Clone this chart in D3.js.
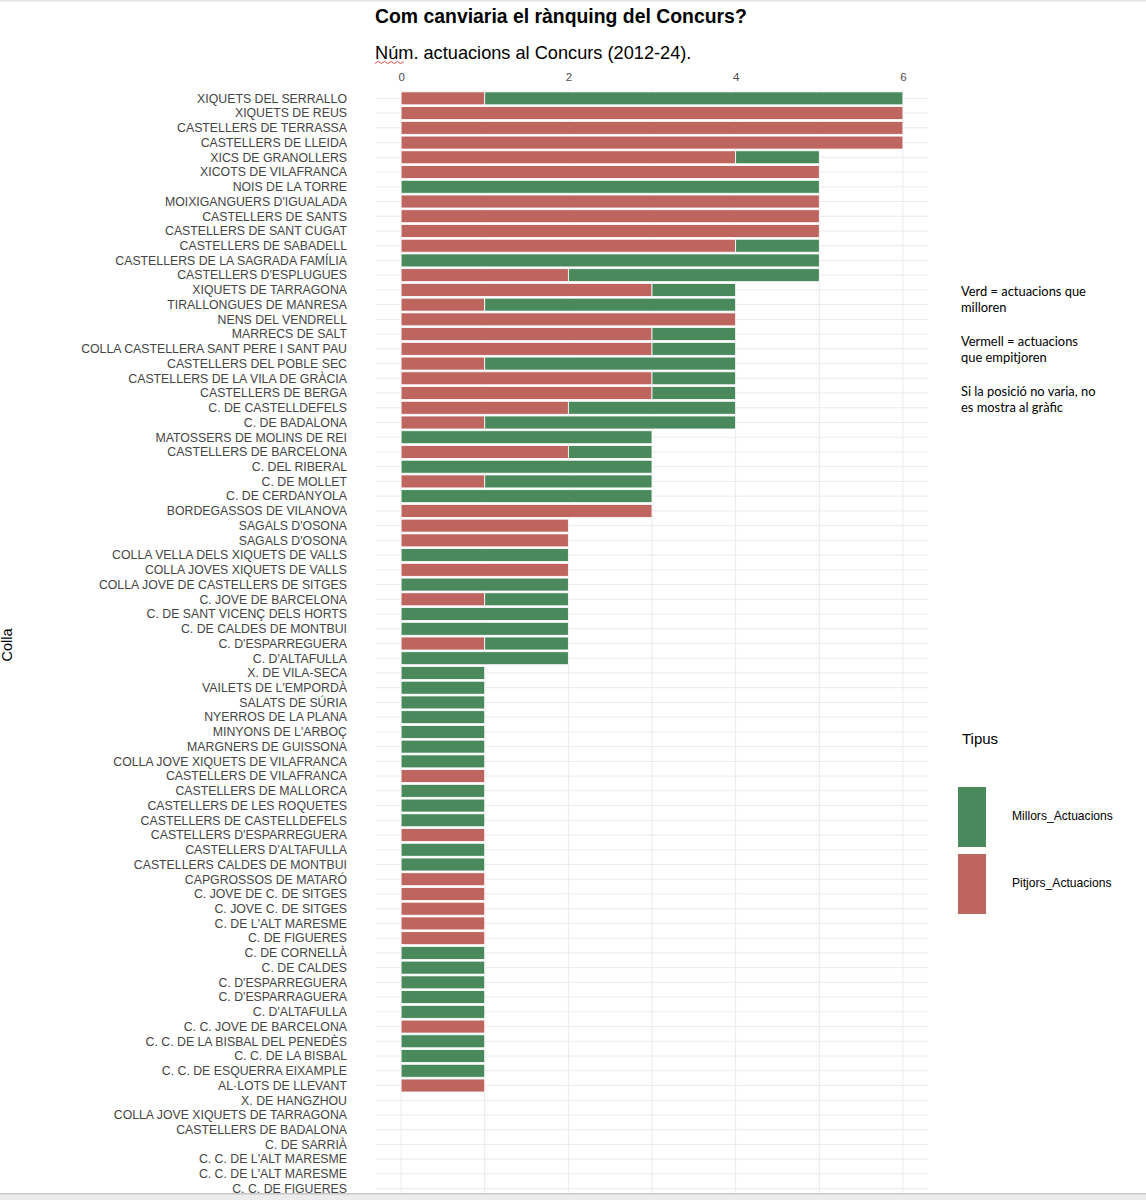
<!DOCTYPE html>
<html>
<head>
<meta charset="utf-8">
<script src="https://cdn.jsdelivr.net/npm/d3@7"></script>
<style>
  body { margin: 0; background: #fff; }
  svg { display: block; }
</style>
</head>
<body>
<div id="chart"></div>
<script>
// colles, from top to bottom (some names appear twice in the original)
const colles = [
  "XIQUETS DEL SERRALLO", "XIQUETS DE REUS", "CASTELLERS DE TERRASSA", "CASTELLERS DE LLEIDA",
  "XICS DE GRANOLLERS", "XICOTS DE VILAFRANCA", "NOIS DE LA TORRE", "MOIXIGANGUERS D'IGUALADA",
  "CASTELLERS DE SANTS", "CASTELLERS DE SANT CUGAT", "CASTELLERS DE SABADELL",
  "CASTELLERS DE LA SAGRADA FAMÍLIA", "CASTELLERS D'ESPLUGUES", "XIQUETS DE TARRAGONA",
  "TIRALLONGUES DE MANRESA", "NENS DEL VENDRELL", "MARRECS DE SALT",
  "COLLA CASTELLERA SANT PERE I SANT PAU", "CASTELLERS DEL POBLE SEC",
  "CASTELLERS DE LA VILA DE GRÀCIA", "CASTELLERS DE BERGA", "C. DE CASTELLDEFELS",
  "C. DE BADALONA", "MATOSSERS DE MOLINS DE REI", "CASTELLERS DE BARCELONA", "C. DEL RIBERAL",
  "C. DE MOLLET", "C. DE CERDANYOLA", "BORDEGASSOS DE VILANOVA", "SAGALS D'OSONA",
  "SAGALS D'OSONA", "COLLA VELLA DELS XIQUETS DE VALLS", "COLLA JOVES XIQUETS DE VALLS",
  "COLLA JOVE DE CASTELLERS DE SITGES", "C. JOVE DE BARCELONA", "C. DE SANT VICENÇ DELS HORTS",
  "C. DE CALDES DE MONTBUI", "C. D'ESPARREGUERA", "C. D'ALTAFULLA", "X. DE VILA-SECA",
  "VAILETS DE L'EMPORDÀ", "SALATS DE SÚRIA", "NYERROS DE LA PLANA", "MINYONS DE L'ARBOÇ",
  "MARGNERS DE GUISSONA", "COLLA JOVE XIQUETS DE VILAFRANCA", "CASTELLERS DE VILAFRANCA",
  "CASTELLERS DE MALLORCA", "CASTELLERS DE LES ROQUETES", "CASTELLERS DE CASTELLDEFELS",
  "CASTELLERS D'ESPARREGUERA", "CASTELLERS D'ALTAFULLA", "CASTELLERS CALDES DE MONTBUI",
  "CAPGROSSOS DE MATARÓ", "C. JOVE DE C. DE SITGES", "C. JOVE C. DE SITGES",
  "C. DE L'ALT MARESME", "C. DE FIGUERES", "C. DE CORNELLÀ", "C. DE CALDES",
  "C. D'ESPARREGUERA", "C. D'ESPARRAGUERA", "C. D'ALTAFULLA", "C. C. JOVE DE BARCELONA",
  "C. C. DE LA BISBAL DEL PENEDÈS", "C. C. DE LA BISBAL", "C. C. DE ESQUERRA EIXAMPLE",
  "AL·LOTS DE LLEVANT", "X. DE HANGZHOU", "COLLA JOVE XIQUETS DE TARRAGONA",
  "CASTELLERS DE BADALONA", "C. DE SARRIÀ", "C. C. DE L'ALT MARESME",
  "C. C. DE L'ALT MARESME", "C. C. DE FIGUERES"
];

// actuacions que empitjoren (vermell)
const pitjors = [
  1, 6, 6, 6, 4, 5, 0, 5, 5, 5, 4, 0, 2, 3, 1, 4, 3, 3, 1, 3, 3, 2, 1, 0, 2,
  0, 1, 0, 3, 2, 2, 0, 2, 0, 1, 0, 0, 1, 0, 0, 0, 0, 0, 0, 0, 0, 1, 0, 0, 0,
  1, 0, 0, 1, 1, 1, 1, 1, 0, 0, 0, 0, 0, 1, 0, 0, 0, 1, 0, 0, 0, 0, 0, 0, 0
];

// actuacions que milloren (verd)
const millors = [
  5, 0, 0, 0, 1, 0, 5, 0, 0, 0, 1, 5, 3, 1, 3, 0, 1, 1, 3, 1, 1, 2, 3, 3, 1,
  3, 2, 3, 0, 0, 0, 2, 0, 2, 1, 2, 2, 1, 2, 1, 1, 1, 1, 1, 1, 1, 0, 1, 1, 1,
  0, 1, 1, 0, 0, 0, 0, 0, 1, 1, 1, 1, 1, 0, 1, 1, 1, 0, 0, 0, 0, 0, 0, 0, 0
];

const tipus = ["Millors_Actuacions", "Pitjors_Actuacions"];
const colors = ["#4a895c", "#bf6560"];
const xTicks = [0, 2, 4, 6];

const notes = [
  ["Verd = actuacions que", "milloren"],
  ["Vermell = actuacions", "que empitjoren"],
  ["Si la posició no varia, no", "es mostra al gràfic"]
];

const width = 1146;
const height = 1200;
const panel = { left: 376, right: 928, top: 90, bottom: 1197 };

const svg = d3.select("#chart")
  .append("svg")
  .attr("width", width)
  .attr("height", height)
  .style("font-family", "'Liberation Sans', Arial, sans-serif");

const x = d3.scaleLinear()
  .domain([-0.3, 6.3])
  .range([panel.left, panel.right]);

const y = d3.scaleBand()
  .domain(d3.range(colles.length))
  .range([91, 1196])
  .paddingInner(0.12)
  .paddingOuter(0.06);

const color = d3.scaleOrdinal().domain(tipus).range(colors);

// stacked rows: red segment first, then green
const rows = colles.map((c, i) => ({ i, pitjors: pitjors[i], millors: millors[i] }));
const series = d3.stack().keys(["pitjors", "millors"])(rows);

// grid lines
svg.append("g")
  .selectAll("line")
  .data(d3.range(colles.length))
  .join("line")
  .attr("x1", panel.left)
  .attr("x2", panel.right)
  .attr("y1", d => y(d) + y.bandwidth() / 2)
  .attr("y2", d => y(d) + y.bandwidth() / 2)
  .attr("stroke", "#ebebeb")
  .attr("stroke-width", 1);

svg.append("g")
  .selectAll("line")
  .data(d3.range(0, 7))
  .join("line")
  .attr("x1", d => x(d))
  .attr("x2", d => x(d))
  .attr("y1", panel.top)
  .attr("y2", panel.bottom)
  .attr("stroke", "#ebebeb")
  .attr("stroke-width", 1);

// bars
svg.append("g")
  .selectAll("g")
  .data(series)
  .join("g")
  .attr("fill", d => d.key === "pitjors" ? color(tipus[1]) : color(tipus[0]))
  .selectAll("rect")
  .data(d => d.filter(s => s[1] > s[0]))
  .join("rect")
  .attr("x", d => x(d[0]))
  .attr("y", d => y(d.data.i))
  .attr("width", d => x(d[1]) - x(d[0]))
  .attr("height", y.bandwidth())
  .attr("stroke", "#fff")
  .attr("stroke-width", 0.8);

// top axis
const axis = svg.append("g")
  .attr("transform", `translate(0,${panel.top})`)
  .call(d3.axisTop(x).tickValues(xTicks).tickFormat(d3.format("d")).tickSize(0).tickPadding(9));
axis.select(".domain").remove();
axis.selectAll("text")
  .attr("fill", "#4d4d4d")
  .style("font-size", "11.5px")
  .style("font-family", "'Liberation Sans', Arial, sans-serif");

// colla labels
svg.append("g")
  .selectAll("text")
  .data(colles)
  .join("text")
  .attr("x", 347)
  .attr("y", (d, i) => y(i) + y.bandwidth() / 2)
  .attr("dy", "0.35em")
  .attr("text-anchor", "end")
  .attr("fill", "#444")
  .style("font-size", "12.3px")
  .text(d => d);

// y axis title
svg.append("text")
  .attr("transform", "translate(12,645) rotate(-90)")
  .attr("text-anchor", "middle")
  .style("font-size", "14.5px")
  .text("Colla");

// title and subtitle
svg.append("text")
  .attr("x", 375)
  .attr("y", 23)
  .style("font-size", "19.4px")
  .style("font-weight", "bold")
  .text("Com canviaria el rànquing del Concurs?");

svg.append("text")
  .attr("x", 375)
  .attr("y", 59)
  .style("font-size", "18.2px")
  .text("Núm. actuacions al Concurs (2012-24).");

// spell-check squiggle under "Núm"
svg.append("path")
  .attr("d", d3.range(0, 10).map(k => `${k === 0 ? "M" : "L"}${375 + k * 3.2},${k % 2 ? 61.5 : 63.5}`).join(""))
  .attr("fill", "none")
  .attr("stroke", "#e05050")
  .attr("stroke-width", 1);

// side notes
const noteG = svg.append("g")
  .style("font-family", "Lato, 'Open Sans', sans-serif")
  .style("font-size", "12.9px");
notes.forEach((lines, k) => {
  lines.forEach((line, j) => {
    noteG.append("text")
      .attr("x", 961)
      .attr("y", 296 + k * 50 + j * 16)
      .text(line);
  });
});

// legend
svg.append("text")
  .attr("x", 962)
  .attr("y", 744)
  .style("font-size", "15px")
  .text("Tipus");

const legend = svg.append("g")
  .selectAll("g")
  .data(tipus)
  .join("g")
  .attr("transform", (d, i) => `translate(958,${787 + i * 67})`);

legend.append("rect")
  .attr("width", 28)
  .attr("height", 60)
  .attr("fill", d => color(d));

legend.append("text")
  .attr("x", 54)
  .attr("y", 29)
  .attr("dy", "0.35em")
  .style("font-size", "12.1px")
  .text(d => d);

// window edges
svg.append("rect")
  .attr("x", 0).attr("y", 0)
  .attr("width", width).attr("height", 1.5)
  .attr("fill", "#e6e6e6");
svg.append("rect")
  .attr("x", 0).attr("y", 1193)
  .attr("width", width).attr("height", 7)
  .attr("fill", "#ececec");
svg.append("rect")
  .attr("x", 0).attr("y", 1193)
  .attr("width", width).attr("height", 1.5)
  .attr("fill", "#c8c8c8");
</script>
</body>
</html>
